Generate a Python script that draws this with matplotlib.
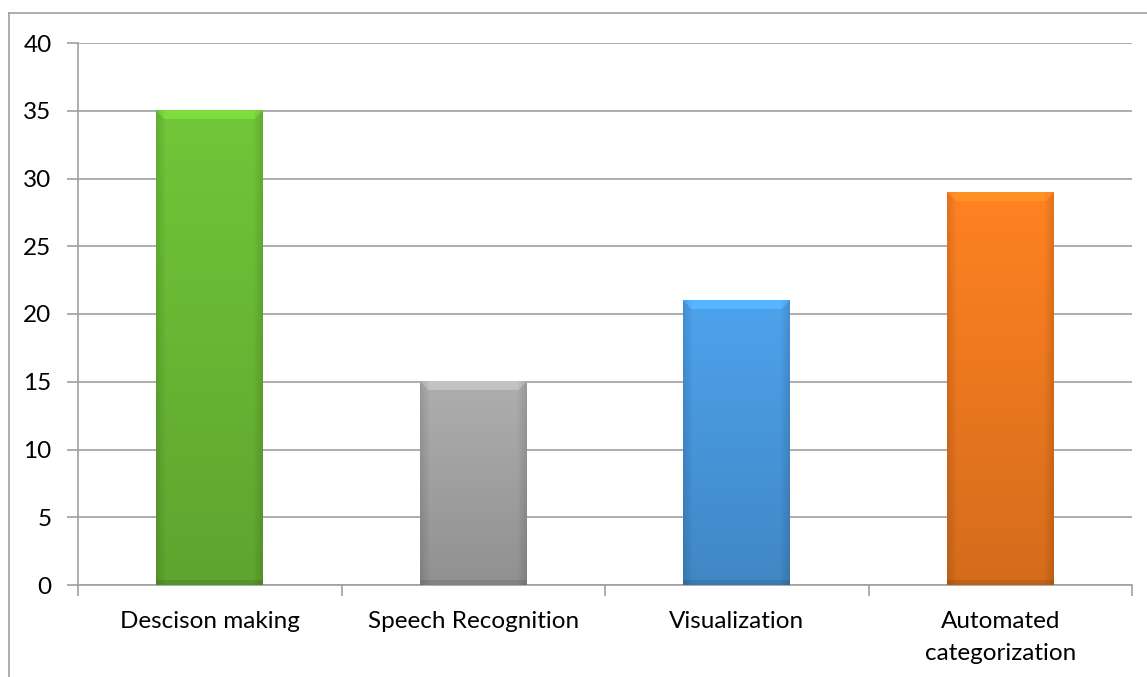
import numpy as np
import matplotlib
matplotlib.use("Agg")
import matplotlib.pyplot as plt
from matplotlib.colors import to_rgb

categories = ["Descison making", "Speech Recognition", "Visualization", "Automated\ncategorization"]
values = [35, 15, 21, 29]
colors = ["#6cbd36", "#a6a6a6", "#4a9be2", "#f47c20"]
yticks = [0, 5, 10, 15, 20, 25, 30, 35, 40]

plt.rcParams['font.family'] = ['Lato', 'DejaVu Sans']

W, H = 1147, 677
fig = plt.figure(figsize=(W / 100, H / 100), dpi=100)
ax = fig.add_axes([78 / W, 1 - 585 / H, (1132 - 78) / W, (585 - 43) / H])

# chart frame (left and top only visible)
fig.add_artist(plt.Line2D([9 / W, 9 / W], [0, 1 - 13 / H], color="#a0a0a0", lw=1.2))
fig.add_artist(plt.Line2D([9 / W, 1], [1 - 13 / H, 1 - 13 / H], color="#a0a0a0", lw=1.2))

x = np.arange(len(categories))
bars = ax.bar(x, values, width=0.405, color="none", zorder=3)

ax.set_xlim(-0.5, len(categories) - 0.5)
ax.set_ylim(0, 40)
ax.set_yticks(yticks)
ax.yaxis.grid(True, color="#a0a0a0", lw=1.2)
ax.set_axisbelow(True)
for s in ["top", "right"]:
    ax.spines[s].set_visible(False)
ax.spines["left"].set_color("#a0a0a0")
ax.spines["bottom"].set_color("#a0a0a0")
ax.spines["left"].set_linewidth(1.2)
ax.spines["bottom"].set_linewidth(1.2)

ax.set_xticks(np.arange(len(categories) + 1) - 0.5)
ax.set_xticklabels([])
ax.set_xticks(x, minor=True)
ax.set_xticklabels(categories, minor=True, fontsize=17.5, linespacing=1.65)
ax.tick_params(axis="x", which="minor", length=0, pad=19)
ax.tick_params(axis="x", which="major", length=8, color="#a0a0a0", width=1.2)
ax.tick_params(axis="y", length=8, color="#a0a0a0", width=1.2, labelsize=17.5, pad=11)

# bevel-style gradient fill for each bar
fig.canvas.draw()
for b, c in zip(bars, colors):
    x0, y0, w, h = b.get_x(), b.get_y(), b.get_width(), b.get_height()
    p0 = ax.transData.transform((x0, y0))
    p1 = ax.transData.transform((x0 + w, y0 + h))
    nx, ny = int(abs(p1[0] - p0[0])), int(abs(p1[1] - p0[1]))
    base = np.array(to_rgb(c))
    yy = np.linspace(0, 1, ny)[:, None] * np.ones((1, nx))   # 0 top, 1 bottom
    xx = np.ones((ny, 1)) * np.arange(nx)[None, :]
    yp = np.arange(ny)[:, None] * np.ones((1, nx))
    shade = 1.05 - 0.18 * yy
    bev = 9
    side = np.minimum(xx, nx - 1 - xx)
    shade = np.where(side < bev, shade * (0.88 + 0.012 * side), shade)
    top = (yp < bev) & (side >= yp)
    shade = np.where(top, shade * 1.12, shade)
    bot = (ny - 1 - yp) < 5
    shade = np.where(bot, shade * 0.9, shade)
    img = np.clip(base[None, None, :] * shade[:, :, None], 0, 1)
    ax.imshow(img, extent=(x0, x0 + w, y0, y0 + h), aspect="auto", zorder=3,
              interpolation="bilinear")

ax.set_xlim(-0.5, len(categories) - 0.5)
ax.set_ylim(0, 40)

fig.savefig("out.png", dpi=100)
